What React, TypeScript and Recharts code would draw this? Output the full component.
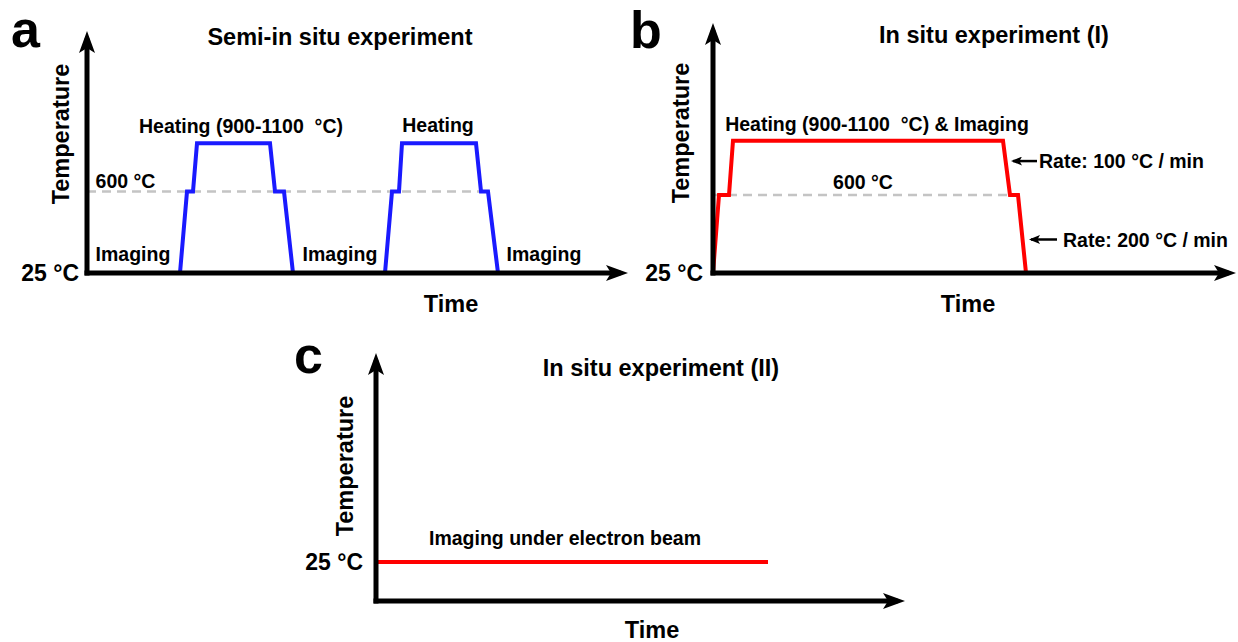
import { LineChart, Line, XAxis, YAxis, ReferenceLine, ReferenceDot } from "recharts";

const FONT = '"Liberation Sans", Arial, Helvetica, sans-serif';

// shared temperatures (°C)
const roomTemp = 25;
const holdTemp = 600;

// panel a: semi-in situ, two heating cycles (time in arbitrary units)
const cycleTemps = [25, 600, 600, 940, 940, 600, 600, 25];
const cycle1Time = [93, 100, 106, 110, 183, 188, 197, 206];
const cycle2Time = [298, 305, 312, 315, 389, 394, 401, 411];
const imagingTimes = [46, 253, 457];

// panel b: in situ (I)
const insituTime = [0, 6, 16, 20, 290, 297, 305, 313];
const insituTemps = [25, 600, 600, 1000, 1000, 600, 600, 25];
const rateLabels = ["Rate: 100 °C / min", "Rate: 200 °C / min"];

// panel c: in situ (II)
const beamTime = [0, 392];
const beamTemps = [25, 25];

const zip = (t: number[], v: number[]) => t.map((x, i) => ({ t: x, temp: v[i] }));

const lbl = (value: string, position: string = "center", fontSize = 19.5) => ({
  value,
  position,
  offset: 0,
  fill: "#000",
  fontSize,
  fontWeight: 700,
  fontFamily: FONT,
});

const axisLine = (marker: "start" | "end") => ({
  stroke: "#000",
  strokeWidth: 5,
  strokeLinecap: "square",
  ...(marker === "end" ? { markerEnd: "url(#axisHead)" } : { markerStart: "url(#axisHead)" }),
});

const tickStyle = { fill: "#000", fontSize: 23, fontWeight: 700, fontFamily: FONT };
const fmt25 = () => "25 °C";

function PanelA() {
  return (
    <LineChart width={640} height={330} margin={{ top: 41, right: 22, bottom: 27, left: 7 }}>
      <XAxis type="number" dataKey="t" domain={[0, 531]} tick={false} tickLine={false} height={30} axisLine={axisLine("end")} />
      <YAxis type="number" dataKey="temp" domain={[25, 1661]} ticks={[roomTemp]} tickFormatter={fmt25} tickLine={false} tickMargin={2} tick={tickStyle} width={80} axisLine={axisLine("start")} />
      <ReferenceLine segment={[{ x: 0, y: holdTemp }, { x: 394, y: holdTemp }]} stroke="#c4c4c4" strokeWidth={2.5} strokeDasharray="9 6" />
      <Line data={zip(cycle1Time, cycleTemps)} dataKey="temp" type="linear" stroke="#1a1aff" strokeWidth={4} dot={false} isAnimationActive={false} />
      <Line data={zip(cycle2Time, cycleTemps)} dataKey="temp" type="linear" stroke="#1a1aff" strokeWidth={4} dot={false} isAnimationActive={false} />
      <ReferenceDot x={154} y={1060} r={0} fill="none" stroke="none" label={lbl("Heating (900-1100\u00a0 °C)")} />
      <ReferenceDot x={351} y={1070} r={0} fill="none" stroke="none" label={lbl("Heating")} />
      <ReferenceDot x={38.5} y={670} r={0} fill="none" stroke="none" label={lbl("600 °C")} />
      {imagingTimes.map((t) => (
        <ReferenceDot key={t} x={t} y={160} r={0} fill="none" stroke="none" label={lbl("Imaging")} />
      ))}
    </LineChart>
  );
}

function PanelB() {
  return (
    <LineChart width={618} height={330} margin={{ top: 33, right: 12, bottom: 27, left: 13 }}>
      <XAxis type="number" dataKey="t" domain={[0, 513]} tick={false} tickLine={false} height={30} axisLine={axisLine("end")} />
      <YAxis type="number" dataKey="temp" domain={[25, 1794]} ticks={[roomTemp]} tickFormatter={fmt25} tickLine={false} tickMargin={4} tick={tickStyle} width={80} axisLine={axisLine("start")} />
      <ReferenceLine segment={[{ x: 0, y: holdTemp }, { x: 297, y: holdTemp }]} stroke="#c4c4c4" strokeWidth={2.5} strokeDasharray="9 6" />
      <Line data={zip(insituTime, insituTemps)} dataKey="temp" type="linear" stroke="#ff0000" strokeWidth={4} dot={false} isAnimationActive={false} />
      <ReferenceDot x={164} y={1125} r={0} fill="none" stroke="none" label={lbl("Heating (900-1100\u00a0 °C) & Imaging")} />
      <ReferenceDot x={150} y={695} r={0} fill="none" stroke="none" label={lbl("600 °C")} />
      <ReferenceLine segment={[{ x: 324, y: 850 }, { x: 300, y: 850 }]} stroke="#000" strokeWidth={2.5} markerEnd="url(#smallHead)" />
      <ReferenceLine segment={[{ x: 344, y: 272 }, { x: 318, y: 272 }]} stroke="#000" strokeWidth={2.5} markerEnd="url(#smallHead)" />
      <ReferenceDot x={326} y={850} r={0} fill="none" stroke="none" label={lbl(rateLabels[0], "right")} />
      <ReferenceDot x={350} y={268} r={0} fill="none" stroke="none" label={lbl(rateLabels[1], "right")} />
    </LineChart>
  );
}

function PanelC() {
  return (
    <LineChart width={640} height={312} margin={{ top: 33, right: 25, bottom: 11, left: 16 }}>
      <XAxis type="number" dataKey="t" domain={[0, 519]} tick={false} tickLine={false} height={30} axisLine={axisLine("end")} />
      <YAxis type="number" dataKey="temp" domain={[0, 152.5]} ticks={[roomTemp]} tickFormatter={fmt25} tickLine={false} tickMargin={7} tick={tickStyle} width={80} axisLine={axisLine("start")} />
      <Line data={zip(beamTime, beamTemps)} dataKey="temp" type="linear" stroke="#ff0000" strokeWidth={4} dot={false} isAnimationActive={false} />
      <ReferenceDot x={189} y={40.5} r={0} fill="none" stroke="none" label={lbl("Imaging under electron beam")} />
    </LineChart>
  );
}

const titleStyle = { fontFamily: FONT, fontWeight: 700, fill: "#000" } as const;

export default function App() {
  return (
    <div style={{ position: "absolute", left: 0, top: 0, width: 1238, height: 642, background: "#fff", overflow: "hidden" }}>
      <svg width={0} height={0} style={{ position: "absolute" }}>
        <defs>
          <marker id="axisHead" markerUnits="userSpaceOnUse" viewBox="0 0 22 16" markerWidth={22} markerHeight={16} refX={12} refY={8} orient="auto-start-reverse">
            <path d="M0,0 L22,8 L0,16 L5,8 Z" fill="#000" />
          </marker>
          <marker id="smallHead" markerUnits="userSpaceOnUse" viewBox="0 0 11 9" markerWidth={11} markerHeight={9} refX={9} refY={4.5} orient="auto">
            <path d="M0,0 L11,4.5 L0,9 L2.5,4.5 Z" fill="#000" />
          </marker>
        </defs>
      </svg>
      <div style={{ position: "absolute", left: 0, top: 0 }}>
        <PanelA />
      </div>
      <div style={{ position: "absolute", left: 620, top: 0 }}>
        <PanelB />
      </div>
      <div style={{ position: "absolute", left: 280, top: 330 }}>
        <PanelC />
      </div>
      <svg width={1238} height={642} style={{ position: "absolute", left: 0, top: 0, pointerEvents: "none" }}>
        <g style={titleStyle}>
          <text x={11} y={47} fontSize={52}>a</text>
          <text x={630} y={48} fontSize={52}>b</text>
          <text x={294} y={373} fontSize={52}>c</text>
          <text x={340} y={45} fontSize={23.5} textAnchor="middle">Semi-in situ experiment</text>
          <text x={994} y={43} fontSize={23.5} textAnchor="middle">In situ experiment (I)</text>
          <text x={661} y={376} fontSize={23.5} textAnchor="middle">In situ experiment (II)</text>
          <text x={69} y={134} fontSize={23.5} textAnchor="middle" transform="rotate(-90 69 134)">Temperature</text>
          <text x={689} y={133} fontSize={23.5} textAnchor="middle" transform="rotate(-90 689 133)">Temperature</text>
          <text x={353} y={466} fontSize={23.5} textAnchor="middle" transform="rotate(-90 353 466)">Temperature</text>
          <text x={451} y={312} fontSize={23.5} textAnchor="middle">Time</text>
          <text x={968} y={312} fontSize={23.5} textAnchor="middle">Time</text>
          <text x={652} y={638} fontSize={23.5} textAnchor="middle">Time</text>
        </g>
      </svg>
    </div>
  );
}
